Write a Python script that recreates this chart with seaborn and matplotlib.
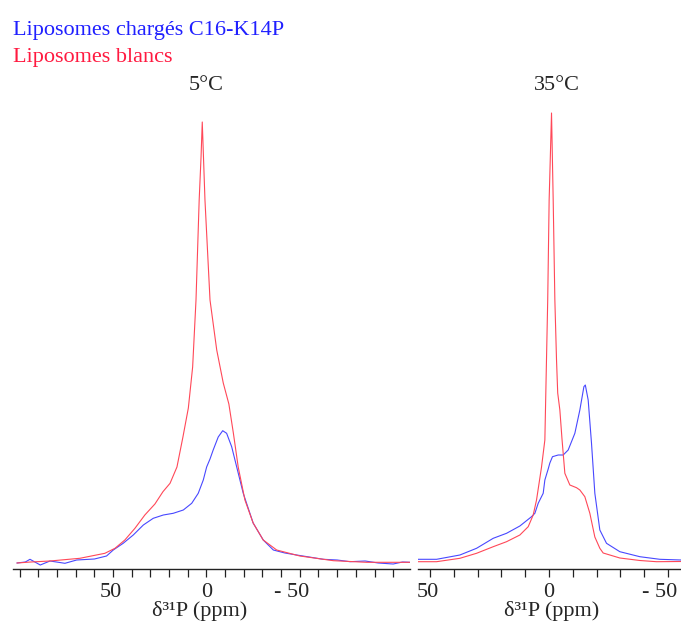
import seaborn as sns
import matplotlib.pyplot as plt
from matplotlib.transforms import ScaledTranslation

sns.set_style("white")
plt.rcParams['font.family'] = ['Liberation Serif', 'DejaVu Serif']

# 31P NMR spectra: chemical shift (ppm), intensity (a.u.)
ppm_5_blank = [101.5, 94, 83.8, 67.8, 54.4, 49, 43.7, 38.3, 33, 27.6, 23.3, 19.5, 15.8, 12.6,
               9.7, 7.4, 5.6, 3.9, 2.9, 2.25, 1.6, 0.8, -1.9, -5.5, -9, -12, -14.4, -17, -20.6,
               -25, -30.4, -37.6, -50, -68, -85.8, -109]
int_5_blank = [6, 7, 8, 10.7, 15.7, 20.7, 29, 40.7, 54, 65, 77.3, 85.7, 102, 132,
               161, 202, 269, 369, 412, 447, 412, 369, 269, 219, 186, 165, 136, 102, 69,
               46, 29, 19, 13, 8.3, 6.7, 6.7]

ppm_5_loaded = [101.5, 97, 94.5, 89, 83.8, 75.8, 69.5, 60, 53.5, 49.9, 44.6, 39.2, 33.8, 28.5,
                23.1, 17.8, 12.4, 7.9, 4.4, 1.7, -0.1, -1.9, -3.6, -6.3, -8.7, -10.8, -13.5,
                -16.2, -19.7, -25, -30.4, -35.8, -42, -48.3, -55, -62.6, -70, -76.9, -85, -92,
                -100, -105, -109]
int_5_loaded = [6, 7, 9.7, 4, 8, 5.7, 9, 10, 13, 19, 25.7, 34, 44, 50.7,
                54, 55.7, 59, 65.7, 75.7, 89, 102, 110, 119, 132, 138.3, 135.7, 122.3,
                102, 75.7, 46, 29, 19, 16, 14, 12, 9.7, 9, 7.3, 8, 6,
                5, 7, 6.7]

ppm_35_blank = [55.6, 47.2, 37.4, 30.4, 23.4, 17.8, 12.2, 8.7, 6.6, 5.2, 3.1, 1.7, 1.3, 0.5,
                -0.1, -1.1, -1.8, -2.5, -3.2, -3.7, -4.6, -5.5, -6.7, -8.8, -11.6, -13, -15.1,
                -17.2, -19.3, -21.4, -22.8, -25.6, -29.8, -38.2, -45.2, -55.5]
int_35_blank = [7.3, 7.3, 10.7, 15.7, 22.3, 27.3, 34, 42.3, 54, 69, 102, 129, 176, 269,
                369, 456, 369, 269, 209, 176, 159, 130, 95.7, 84, 81.3, 79, 72.3,
                55.7, 32, 20.7, 16, 14, 11, 8.5, 7.3, 7.5]

ppm_35_loaded = [55.6, 47.2, 37.4, 30.4, 23.4, 17.8, 12.2, 7.3, 5.9, 4.5, 2.4, 1.7, 0.3, -0.4,
                 -1.5, -3.9, -6, -8.1, -10.9, -13, -14.7, -15.3, -16.5, -17.9, -19.3, -21.4,
                 -24.2, -29.8, -38.2, -46.6, -55.5]
int_35_loaded = [9.7, 9.7, 14, 20.7, 30.7, 35.7, 43, 52.3, 55.7, 65.7, 75.7, 89, 100, 106,
                 112.3, 114, 114, 119, 135.7, 159, 182.3, 184, 169, 125.7, 75.7, 39,
                 25.7, 17.3, 12.3, 9.7, 9]

titles = ["5°C", "35°C"]
xlabel = "δ³¹P (ppm)"
legend_texts = ["Liposomes chargés C16-K14P", "Liposomes blancs"]

blue = "#4848ff"
red = "#ff4858"

fig = plt.figure(figsize=(6.81, 6.21), dpi=100)
W, H = 681, 621
ax1 = fig.add_axes([13 / W, 52 / H, 397 / W, 469 / H])
ax2 = fig.add_axes([418 / W, 52 / H, 263 / W, 469 / H])

panels = [
    (ax1, ppm_5_loaded, int_5_loaded, ppm_5_blank, int_5_blank, (103.6, -109), range(100, -101, -10), 0.471, 0.486),
    (ax2, ppm_35_loaded, int_35_loaded, ppm_35_blank, int_35_blank, (55.0, -55.5), range(50, -51, -10), 0.508, 0.53),
]

for i, (ax, xb, yb, xr, yr, xl, ticks, lab_x, tit_x) in enumerate(panels):
    sns.lineplot(x=xb, y=yb, color=blue, lw=0.8, ax=ax)
    sns.lineplot(x=xr, y=yr, color=red, lw=0.8, ax=ax)
    ax.set_xlim(*xl)
    ax.set_ylim(0, 469)
    ticks = list(ticks)
    ax.set_xticks(ticks)
    ax.set_xticklabels(["- 50" if t == -50 else str(t) if t in (50, 0) else "" for t in ticks])
    ax.set_yticks([])
    for s in ["left", "right", "top"]:
        ax.spines[s].set_visible(False)
    ax.spines["bottom"].set_color("#222222")
    ax.spines["bottom"].set_linewidth(1.0)
    ax.tick_params(axis="x", direction="out", length=6, width=0.9, color="#222222",
                   labelsize=16, pad=4, bottom=True)
    # the "- 50" labels sit a little left of their tick in the original
    for t, lab in zip(ticks, ax.get_xticklabels()):
        if t == -50:
            lab.set_transform(lab.get_transform() + ScaledTranslation(-8 / 100, 0, fig.dpi_scale_trans))
        elif t == 50:
            lab.set_transform(lab.get_transform() + ScaledTranslation(-2 / 100, 0, fig.dpi_scale_trans))
    ax.set_xlabel(xlabel, fontsize=16)
    ax.xaxis.set_label_coords(lab_x, -0.068)
    ax.text(tit_x, 1.01, titles[i], transform=ax.transAxes, ha="center", va="bottom", fontsize=16)
    ax.patch.set_alpha(0)

fig.text(13 / W, 1 - 35 / H, legend_texts[0], color="#2020ff", fontsize=16, va="baseline")
fig.text(13 / W, 1 - 62 / H, legend_texts[1], color="#ff1a40", fontsize=16, va="baseline")

fig.savefig("out.png", dpi=100)
